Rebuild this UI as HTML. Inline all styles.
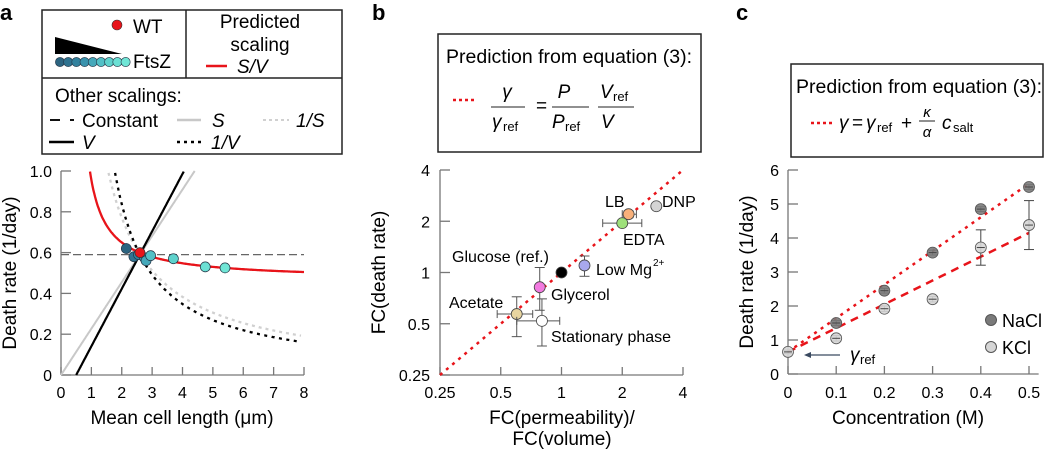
<!DOCTYPE html>
<html><head><meta charset="utf-8"><style>
body{margin:0;background:#fff;}
svg{font-family:"Liberation Sans",sans-serif;display:block}
</style></head><body>
<svg id="fig" width="1050" height="449" viewBox="0 0 1050 449">
<text x="0" y="20" font-size="22" font-weight="bold">a</text>
<text x="372" y="20" font-size="22" font-weight="bold">b</text>
<text x="736" y="20" font-size="22" font-weight="bold">c</text>

<!-- panel a legend -->
<g font-size="19">
<rect x="42" y="10" width="300" height="144" fill="none" stroke="#222" stroke-width="1.5"/>
<line x1="186" y1="10" x2="186" y2="78" stroke="#222" stroke-width="1.5"/>
<line x1="42" y1="78" x2="342" y2="78" stroke="#222" stroke-width="1.5"/>
<circle cx="117" cy="25" r="5" fill="#e8141a" stroke="#333" stroke-width="0.6"/>
<text x="133" y="33">WT</text>
<polygon points="55,37 122,54 55,54" fill="#000"/>
<g id="ftsz-legend"></g>
<text x="133" y="68">FtsZ</text>
<text x="260" y="28" text-anchor="middle">Predicted</text>
<text x="260" y="51" text-anchor="middle">scaling</text>
<line x1="206" y1="66" x2="227" y2="66" stroke="#e8141a" stroke-width="2.5"/>
<text x="237" y="73" font-style="italic">S/V</text>
<text x="55" y="102">Other scalings:</text>
<line x1="50" y1="120" x2="60" y2="120" stroke="#111" stroke-width="2"/><line x1="70" y1="120" x2="74" y2="120" stroke="#111" stroke-width="2"/>
<text x="82" y="127">Constant</text>
<line x1="177" y1="120" x2="201" y2="120" stroke="#c8c8c8" stroke-width="2.5"/>
<text x="212" y="127" font-style="italic">S</text>
<line x1="263" y1="120" x2="289" y2="120" stroke="#d0d0d0" stroke-width="2" stroke-dasharray="3,3"/>
<text x="296" y="127" font-style="italic">1/S</text>
<line x1="49" y1="142" x2="74" y2="142" stroke="#000" stroke-width="2.5"/>
<text x="82" y="149" font-style="italic">V</text>
<line x1="177" y1="142" x2="203" y2="142" stroke="#000" stroke-width="2.5" stroke-dasharray="3,4"/>
<text x="211" y="149" font-style="italic">1/V</text>
</g>

<g id="panelA"></g>
<g id="panelB"></g>
<g id="panelC"></g>

<!-- panel b legend -->
<g font-size="19">
<rect x="438" y="34" width="263" height="118" fill="none" stroke="#222" stroke-width="1.5"/>
<text x="446" y="63" font-size="19.5">Prediction from equation (3):</text>
<line x1="453" y1="100" x2="474" y2="100" stroke="#e8141a" stroke-width="2.5" stroke-dasharray="3,3"/>
<text x="507" y="98" text-anchor="middle" font-style="italic">γ</text>
<line x1="491" y1="107" x2="525" y2="107" stroke="#222"/>
<text x="492" y="128" font-style="italic">γ</text><text x="503" y="131" font-size="13">ref</text>
<text x="536" y="112">=</text>
<text x="564" y="98" text-anchor="middle" font-style="italic">P</text>
<line x1="552" y1="107" x2="589" y2="107" stroke="#222"/>
<text x="552" y="128" font-style="italic">P</text><text x="565" y="131" font-size="13">ref</text>
<text x="600" y="98" font-style="italic">V</text><text x="613" y="101" font-size="13">ref</text>
<line x1="598" y1="107" x2="634" y2="107" stroke="#222"/>
<text x="601" y="128" font-style="italic">V</text>
</g>

<!-- panel c legend -->
<g font-size="19">
<rect x="791" y="64" width="252" height="93" fill="none" stroke="#222" stroke-width="1.5"/>
<text x="796" y="93" font-size="19.5">Prediction from equation (3):</text>
<line x1="811" y1="123" x2="834" y2="123" stroke="#e8141a" stroke-width="2.5" stroke-dasharray="3,3"/>
<text x="839" y="129" font-style="italic">γ</text>
<text x="852" y="129">=</text>
<text x="866" y="129" font-style="italic">γ</text><text x="877" y="132" font-size="13">ref</text>
<text x="901" y="129">+</text>
<text x="927" y="117" text-anchor="middle" font-style="italic" font-size="15">κ</text>
<line x1="919" y1="121" x2="935" y2="121" stroke="#222"/>
<text x="927" y="137" text-anchor="middle" font-style="italic" font-size="15">α</text>
<text x="942" y="129" font-style="italic">c</text><text x="953" y="132" font-size="13">salt</text>
</g>
</svg>
<script>
const NS="http://www.w3.org/2000/svg";
function mk(p,t,a,txt){const e=document.createElementNS(NS,t);for(const k in a)e.setAttribute(k,a[k]);if(txt!==undefined)e.textContent=txt;p.appendChild(e);return e;}

// ===== Panel A data =====
const aXTicks=[0,1,2,3,4,5,6,7,8];
const aYTicks=[0,0.2,0.4,0.6,0.8,1.0];
const aYTickLabels=["0","0.2","0.4","0.6","0.8","1.0"];
const ftszLength=[2.15,2.4,2.55,2.75,2.8,2.95,3.7,4.75,5.4];
const ftszRate=[0.62,0.58,0.59,0.575,0.56,0.585,0.57,0.53,0.525];
const ftszColors=["#2c6480","#2f7390","#33829e","#3a93ad","#45a8ba","#52c0c6","#5ed2cc","#6be0d4","#70e6d6"];
const wtLength=[2.6];
const wtRate=[0.6];
const constRate=[0.59];

// ===== Panel B data =====
const bTicks=[0.25,0.5,1,2,4];
const bTickLabels=["0.25","0.5","1","2","4"];
const bNames=["Acetate","Stationary phase","Glycerol","Glucose (ref.)","Low Mg","EDTA","LB","DNP"];
const bX=[0.6,0.8,0.78,1,1.3,2,2.15,2.95];
const bY=[0.57,0.52,0.82,1,1.1,1.95,2.2,2.45];
const bXLo=[0.48,0.6,0.78,1,1.3,1.6,2.0,2.95];
const bXHi=[0.72,0.98,0.78,1,1.3,2.5,2.35,2.95];
const bYLo=[0.42,0.37,0.6,1,0.95,1.95,2.1,2.45];
const bYHi=[0.72,0.7,1.07,1,1.25,1.95,2.3,2.45];
const bColors=["#e8d5a0","#ffffff","#f27ae0","#000000","#a8a8ee","#9ee07a","#f8b07a","#d4d4d4"];

// ===== Panel C data =====
const cXTicks=[0,0.1,0.2,0.3,0.4,0.5];
const cYTicks=[0,1,2,3,4,5,6];
const naclConc=[0.1,0.2,0.3,0.4,0.5];
const naclRate=[1.5,2.45,3.57,4.85,5.5];
const kclConc=[0,0.1,0.2,0.3,0.4,0.5];
const kclRate=[0.65,1.05,1.92,2.2,3.72,4.38];
const kclErr=[0.05,0.08,0.08,0.08,0.52,0.72];
const naclFit=[0.65,5.6];
const kclFit=[0.65,4.15];

const fig=document.getElementById('fig');

const fl=document.getElementById('ftsz-legend');
ftszColors.forEach((c,i)=>{const e=mk(fl,'circle',{cx:60+i*8.2,cy:62,r:4.6,fill:c,stroke:'#234',"stroke-width":0.6});

});

// ===== Panel A =====
(function(){
 const g=document.getElementById('panelA');
 const X=v=>61+v*(304-61)/8, Y=v=>375-v*(375-171);
 mk(g,'line',{x1:X(0),y1:Y(0),x2:X(0),y2:Y(1),stroke:'#777','stroke-width':1.3});
 mk(g,'line',{x1:X(0),y1:Y(0),x2:X(8),y2:Y(0),stroke:'#777','stroke-width':1.3});
 aXTicks.forEach(t=>{mk(g,'line',{x1:X(t),y1:Y(0),x2:X(t),y2:Y(0)-8,stroke:'#777','stroke-width':1.3});
  const e=mk(g,'text',{x:X(t),y:398,'font-size':16,'text-anchor':'middle'},String(t));
  
  });
 aYTicks.forEach((t,i)=>{mk(g,'line',{x1:X(0),y1:Y(t),x2:X(0)+10,y2:Y(t),stroke:'#777','stroke-width':1.3});
  const e=mk(g,'text',{x:52,y:Y(t)+6,'font-size':16,'text-anchor':'end'},aYTickLabels[i]);
  
  });
 const xt=mk(g,'text',{x:182,y:424,'font-size':19,'text-anchor':'middle'},'Mean cell length (μm)');
 
 
 const yt=mk(g,'text',{x:0,y:0,'font-size':19,'text-anchor':'middle',transform:`translate(16,${Y(0.5)}) rotate(-90)`},'Death rate (1/day)');
 
 
 function curve(f,x0,x1,attrs,name){let d='';for(let i=0;i<=300;i++){const x=x0+(x1-x0)*i/300;const y=f(x);if(y>1.0||y<0)continue;d+=(d?'L':'M')+X(x).toFixed(1)+','+Y(y).toFixed(1);}
  const e=mk(g,'path',Object.assign({d,fill:'none'},attrs));}
 curve(x=>constRate[0],0,8,{stroke:'#666','stroke-width':1.3,'stroke-dasharray':'8,4'},'constant-line');
 curve(x=>x/4.4,0,4.4,{stroke:'#c8c8c8','stroke-width':2},'s-line');
 curve(x=>1.52/(x-0.03),1.5,7.9,{stroke:'#d0d0d0','stroke-width':2.3,'stroke-dasharray':'3,4'},'inv-s-line');
 curve(x=>(x-0.5)/3.55,0.5,4.1,{stroke:'#000','stroke-width':2.2},'v-line');
 curve(x=>1.19/(x-0.58),1.7,7.8,{stroke:'#000','stroke-width':2.3,'stroke-dasharray':'3,4.5'},'inv-v-line');
 curve(x=>0.466+0.294/(x-0.4),0.93,8,{stroke:'#e8141a','stroke-width':2.3},'s-over-v-line');
 ftszLength.forEach((l,i)=>{const e=mk(g,'circle',{cx:X(l),cy:Y(ftszRate[i]),r:5,fill:ftszColors[i],stroke:'#234','stroke-width':0.7});
  
  });
 wtLength.forEach((l,i)=>{const e=mk(g,'circle',{cx:X(l),cy:Y(wtRate[i]),r:5,fill:'#e8141a',stroke:'#333','stroke-width':0.7});
  
  });
})();

// ===== Panel B =====
(function(){
 const g=document.getElementById('panelB');
 const L=v=>Math.log2(v)+2;
 const X=v=>440+L(v)*(683-440)/4, Y=v=>375-L(v)*(375-170)/4;
 mk(g,'line',{x1:X(0.25),y1:Y(0.25),x2:X(0.25),y2:Y(4),stroke:'#777','stroke-width':1.3});
 mk(g,'line',{x1:X(0.25),y1:Y(0.25),x2:X(4),y2:Y(0.25),stroke:'#777','stroke-width':1.3});
 bTicks.forEach((t,i)=>{mk(g,'line',{x1:X(t),y1:Y(0.25),x2:X(t),y2:Y(0.25)-8,stroke:'#777','stroke-width':1.3});
  mk(g,'line',{x1:X(0.25),y1:Y(t),x2:X(0.25)+10,y2:Y(t),stroke:'#777','stroke-width':1.3});
  const e=mk(g,'text',{x:X(t),y:398,'font-size':16,'text-anchor':'middle'},bTickLabels[i]);
  
  
  const e2=mk(g,'text',{x:430,y:Y(t)+6,'font-size':16,'text-anchor':'end'},bTickLabels[i]);
  
  });
 const xt=mk(g,'text',{x:562,y:424,'font-size':19,'text-anchor':'middle'},'FC(permeability)/');
 
 
 mk(g,'text',{x:562,y:445,'font-size':19,'text-anchor':'middle'},'FC(volume)');
 const yt=mk(g,'text',{x:0,y:0,'font-size':19,'text-anchor':'middle',transform:`translate(385,${Y(1)}) rotate(-90)`},'FC(death rate)');
 
 
 const ln=mk(g,'line',{x1:X(0.25),y1:Y(0.25),x2:X(4),y2:Y(4),stroke:'#e8141a','stroke-width':2.5,'stroke-dasharray':'3,5'});
 
 
 bX.forEach((x,i)=>{
  const eb=(x1,y1,x2,y2)=>mk(g,'line',{x1,y1,x2,y2,stroke:'#555','stroke-width':1});
  if(bXHi[i]>bXLo[i]){eb(X(bXLo[i]),Y(bY[i]),X(bXHi[i]),Y(bY[i]));eb(X(bXLo[i]),Y(bY[i])-4,X(bXLo[i]),Y(bY[i])+4);eb(X(bXHi[i]),Y(bY[i])-4,X(bXHi[i]),Y(bY[i])+4);}
  if(bYHi[i]>bYLo[i]){eb(X(x),Y(bYLo[i]),X(x),Y(bYHi[i]));eb(X(x)-5,Y(bYLo[i]),X(x)+5,Y(bYLo[i]));eb(X(x)-5,Y(bYHi[i]),X(x)+5,Y(bYHi[i]));}
  const c=mk(g,'circle',{cx:X(x),cy:Y(bY[i]),r:5.5,fill:bColors[i],stroke:'#444','stroke-width':0.8});
  
  
 });
 const lab=[["Acetate",449,308],["Stationary phase",551,342],["Glycerol",551,300],["Glucose (ref.)",452,262],["Low Mg",596,275],["EDTA",623,245],["LB",605,207],["DNP",662,207]];
 lab.forEach(l=>{const e=mk(g,'text',{x:l[1],y:l[2],'font-size':16},l[0]);
  
  });
 mk(g,'text',{x:653,y:266,'font-size':10},'2+');
})();

// ===== Panel C =====
(function(){
 const g=document.getElementById('panelC');
 const X=v=>788+v*(1029-788)/0.5, Y=v=>374-v*(374-170)/6;
 mk(g,'line',{x1:X(0),y1:Y(0),x2:X(0),y2:Y(6),stroke:'#777','stroke-width':1.3});
 mk(g,'line',{x1:X(0),y1:Y(0),x2:X(0.52),y2:Y(0),stroke:'#777','stroke-width':1.3});
 cXTicks.forEach(t=>{mk(g,'line',{x1:X(t),y1:Y(0),x2:X(t),y2:Y(0)-8,stroke:'#777','stroke-width':1.3});
  const e=mk(g,'text',{x:X(t),y:398,'font-size':16,'text-anchor':'middle'},t===0?'0':String(t));
  
  });
 cYTicks.forEach(t=>{mk(g,'line',{x1:X(0),y1:Y(t),x2:X(0)+10,y2:Y(t),stroke:'#777','stroke-width':1.3});
  const e=mk(g,'text',{x:779,y:Y(t)+6,'font-size':16,'text-anchor':'end'},String(t));
  
  });
 const xt=mk(g,'text',{x:908,y:424,'font-size':19,'text-anchor':'middle'},'Concentration (M)');
 
 
 const yt=mk(g,'text',{x:0,y:0,'font-size':19,'text-anchor':'middle',transform:`translate(753,${Y(3)}) rotate(-90)`},'Death rate (1/day)');
 
 
 const l1=mk(g,'line',{x1:X(0),y1:Y(naclFit[0]),x2:X(0.5),y2:Y(naclFit[1]),stroke:'#e8141a','stroke-width':2.5,'stroke-dasharray':'3,5'});
 
 
 const l2=mk(g,'line',{x1:X(0),y1:Y(kclFit[0]),x2:X(0.5),y2:Y(kclFit[1]),stroke:'#e8141a','stroke-width':2.5,'stroke-dasharray':'8,6'});
 
 
 function pt(x,y,err,fill,name){const cx=X(x),cy=Y(y);
  mk(g,'line',{x1:cx,y1:Y(y-err),x2:cx,y2:Y(y+err),stroke:'#444','stroke-width':1});
  mk(g,'line',{x1:cx-5,y1:Y(y-err),x2:cx+5,y2:Y(y-err),stroke:'#444','stroke-width':1});
  mk(g,'line',{x1:cx-5,y1:Y(y+err),x2:cx+5,y2:Y(y+err),stroke:'#444','stroke-width':1});
  const c=mk(g,'circle',{cx,cy,r:5.5,fill,stroke:'#555','stroke-width':0.8,'fill-opacity':0.9});
  
  
  mk(g,'line',{x1:cx-4,y1:cy,x2:cx+4,y2:cy,stroke:'#444','stroke-width':1});}
 kclConc.forEach((x,i)=>pt(x,kclRate[i],kclErr[i],'#d6d6d6','kcl-point'));
 naclConc.forEach((x,i)=>pt(x,naclRate[i],0.07,'#7a7a7a','nacl-point'));
 mk(g,'line',{x1:840,y1:355,x2:808,y2:355,stroke:'#3a4a60','stroke-width':1.2});
 mk(g,'polygon',{points:'804,355 811,352 811,358',fill:'#3a4a60'});
 mk(g,'text',{x:850,y:361,'font-size':19,'font-style':'italic'},'γ');
 mk(g,'text',{x:860,y:364,'font-size':13},'ref');
 const lg1=mk(g,'circle',{cx:991,cy:320,r:5.5,fill:'#7a7a7a',stroke:'#555'});
 
 
 mk(g,'text',{x:1002,y:327,'font-size':18},'NaCl');
 const lg2=mk(g,'circle',{cx:991,cy:347,r:5.5,fill:'#d6d6d6',stroke:'#555'});
 
 
 mk(g,'text',{x:1002,y:354,'font-size':18},'KCl');
})();
</script>
</body></html>
